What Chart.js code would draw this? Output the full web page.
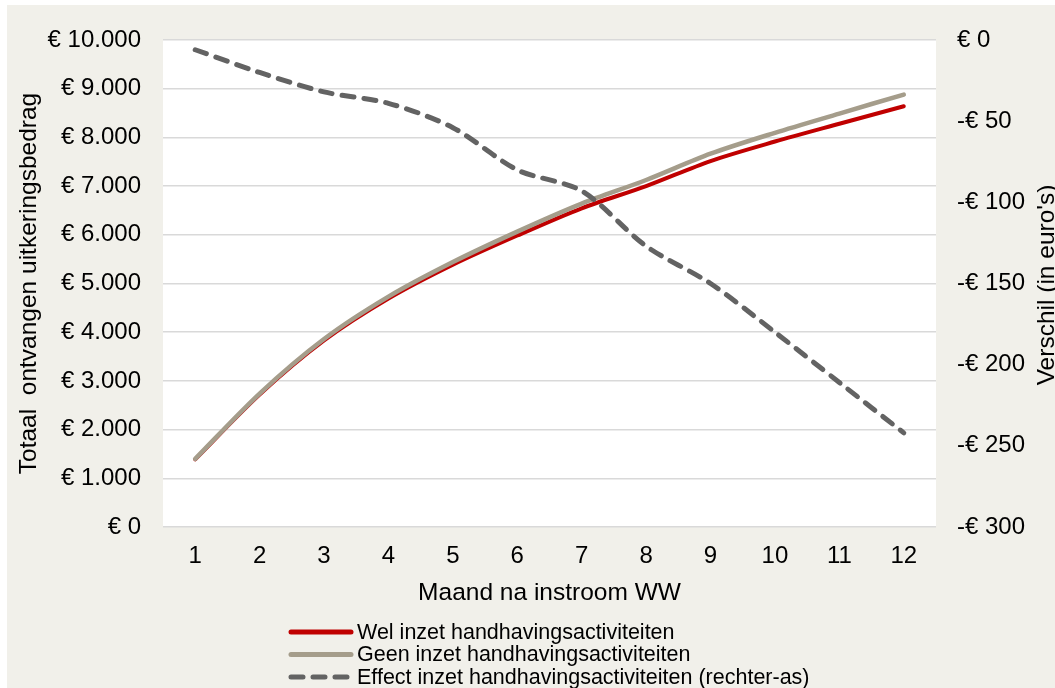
<!DOCTYPE html>
<html lang="nl">
<head>
  <meta charset="UTF-8">
  <title>Uitkeringsbedrag per maand na instroom WW</title>
  <script src="https://cdn.jsdelivr.net/npm/chart.js"></script>
  <style>
    * { margin: 0; padding: 0; box-sizing: border-box; }
    html, body { width: 1055px; height: 688px; overflow: hidden; background: #f1f0ea; }
    canvas { display: block; }
  </style>
</head>
<body>
<canvas id="chart" width="1055" height="688"></canvas>

<script>
const maanden = ['1', '2', '3', '4', '5', '6', '7', '8', '9', '10', '11', '12'];
const welInzet = [1390, 2720, 3830, 4690, 5385, 5985, 6545, 7000, 7515, 7915, 8280, 8640];
const geenInzet = [1400, 2740, 3860, 4730, 5440, 6065, 6640, 7125, 7665, 8095, 8490, 8880];
const effect = [-6, -20, -32, -39, -54, -80, -93, -127, -150, -180, -211, -242];

const FONT = "'Liberation Sans', Arial, sans-serif";
const BG = '#f1f0ea';

function euro(v) {
  const s = '€ ' + Math.abs(v).toLocaleString('nl-NL');
  return v < 0 ? '-' + s : s;
}

// witte plotruimte op beige achtergrond
const plotBg = {
  id: 'plotBg',
  beforeDraw(chart) {
    const { ctx, chartArea: a } = chart;
    ctx.save();
    ctx.fillStyle = '#ffffff';
    ctx.fillRect(0, 0, chart.width, chart.height);
    ctx.fillStyle = BG;
    ctx.fillRect(7, 5, chart.width - 7, chart.height - 5);
    ctx.fillStyle = '#ffffff';
    ctx.fillRect(a.left, a.top, a.right - a.left, a.bottom - a.top);
    ctx.restore();
  }
};

// titel rechter-as (leest van onder naar boven) + legenda onder elkaar
const extras = {
  id: 'extras',
  afterDraw(chart) {
    const ctx = chart.ctx;
    ctx.save();
    ctx.fillStyle = '#000';
    ctx.font = '24.5px ' + FONT;
    ctx.translate(1054, 285);
    ctx.rotate(-Math.PI / 2);
    ctx.textAlign = 'center';
    ctx.textBaseline = 'alphabetic';
    ctx.fillText("Verschil (in euro's)", 0, 0);
    ctx.restore();

    ctx.save();
    ctx.font = '21.5px ' + FONT;
    ctx.textBaseline = 'middle';
    ctx.textAlign = 'left';
    let y = 632;
    chart.data.datasets.forEach(ds => {
      ctx.beginPath();
      ctx.strokeStyle = ds.borderColor;
      ctx.lineWidth = 5;
      ctx.lineCap = 'round';
      ctx.setLineDash(ds.borderDash || []);
      ctx.moveTo(291, y);
      ctx.lineTo(351, y);
      ctx.stroke();
      ctx.setLineDash([]);
      ctx.fillStyle = '#000';
      ctx.fillText(ds.label, 357, y + 1);
      y += 22.5;
    });
    ctx.restore();
  }
};

const tickFont = { family: FONT, size: 24 };
const titleFont = { family: FONT, size: 24.5 };

new Chart(document.getElementById('chart'), {
  type: 'line',
  data: {
    labels: maanden,
    datasets: [
      {
        label: 'Wel inzet handhavingsactiviteiten',
        data: welInzet,
        yAxisID: 'y',
        borderColor: '#c00000',
        borderWidth: 4,
        tension: 0.3,
        pointRadius: 0,
        borderCapStyle: 'round',
        order: 3
      },
      {
        label: 'Geen inzet handhavingsactiviteiten',
        data: geenInzet,
        yAxisID: 'y',
        borderColor: '#a59d8b',
        borderWidth: 4.5,
        tension: 0.3,
        pointRadius: 0,
        borderCapStyle: 'round',
        order: 2
      },
      {
        label: 'Effect inzet handhavingsactiviteiten (rechter-as)',
        data: effect,
        yAxisID: 'y2',
        borderColor: '#636363',
        borderWidth: 5,
        borderDash: [12, 10],
        borderCapStyle: 'round',
        tension: 0.3,
        pointRadius: 0,
        order: 1
      }
    ]
  },
  options: {
    responsive: false,
    animation: false,
    devicePixelRatio: 1,
    layout: { padding: { top: 40, left: 0, right: 0, bottom: 0 } },
    plugins: {
      legend: { display: false },
      tooltip: { enabled: false }
    },
    scales: {
      x: {
        offset: true,
        grid: { display: false, drawTicks: false },
        border: { display: false },
        ticks: { color: '#000', font: tickFont, padding: 15, maxRotation: 0 },
        title: {
          display: true,
          text: 'Maand na instroom WW',
          color: '#000',
          font: titleFont,
          padding: { top: 4, bottom: 80 }
        },
        afterFit(s) { s.height = 161; }
      },
      y: {
        position: 'left',
        min: 0,
        max: 10000,
        ticks: {
          stepSize: 1000,
          color: '#000',
          font: tickFont,
          padding: 22,
          callback: v => euro(v)
        },
        grid: { color: '#d9d9d9', lineWidth: 1.5, drawTicks: false },
        border: { display: false },
        title: {
          display: true,
          text: 'Totaal  ontvangen uitkeringsbedrag',
          color: '#000',
          font: titleFont,
          padding: { top: 15, bottom: 0 }
        },
        afterFit(s) { s.width = 163; }
      },
      y2: {
        position: 'right',
        min: -300,
        max: 0,
        ticks: {
          stepSize: 50,
          color: '#000',
          font: tickFont,
          padding: 21,
          callback: v => euro(v)
        },
        grid: { display: false, drawTicks: false },
        border: { display: false },
        afterFit(s) { s.width = 119; }
      }
    }
  },
  plugins: [plotBg, extras]
});
</script>
</body>
</html>
